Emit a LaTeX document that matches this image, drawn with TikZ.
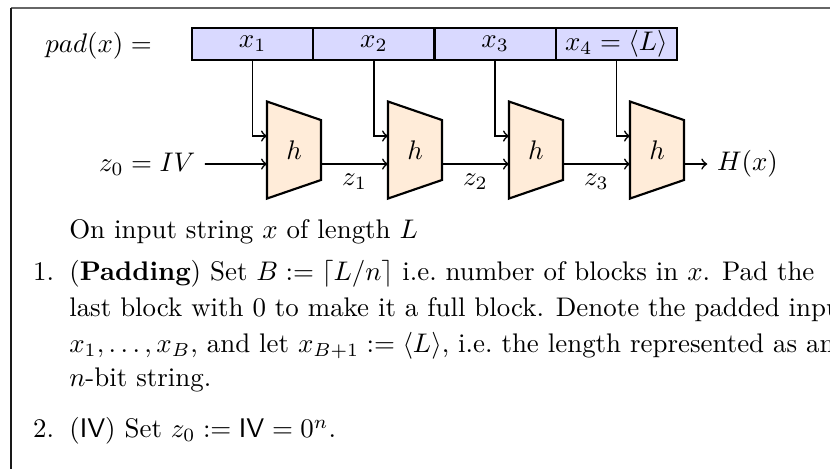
\documentclass[tikz,border=0pt]{standalone}
\usepackage{amsmath}
\usetikzlibrary{positioning, backgrounds}

\tikzset{
  blk/.style={draw, thick, fill=blue!15, minimum width=1.584cm, minimum height=0.418cm, inner sep=0pt, outer sep=0pt},
  hbox/.style={minimum width=0.705cm, minimum height=1.267cm, inner sep=0pt, outer sep=0pt},
  hshape/.style={draw, thick, fill=orange!15},
  txt/.style={anchor=base west, inner sep=0pt},
  num/.style={anchor=base east, inner sep=0pt},
}

\begin{document}
\begin{tikzpicture}[>=to, semithick]
  \useasboundingbox (0,0) rectangle (10.843,-6.114);
  \clip (0,0) rectangle (10.843,-6.114);
  % page frame
  \draw[black!60, thin] (0.144,-0.105) -- (10.9,-0.105);
  \draw[black!90, thin] (0.144,-0.105) -- (0.144,-6.2);

  % padded message blocks
  \node (pad) at (1.287,-0.6) {$pad(x) =$};
  \node[blk] (x1) at (3.300,-0.575) {$x_1$};
  \node[blk, right=0pt of x1] (x2) {$x_2$};
  \node[blk, right=0pt of x2] (x3) {$x_3$};
  \node[blk, right=0pt of x3] (x4) {$x_4 = \langle L\rangle$};

  % chain of compression functions
  \foreach \i/\x in {1/3.841, 2/5.422, 3/7.002, 4/8.583} {
    \node[hbox] (h\i) at (\x,-1.96) {$h$};
    \begin{scope}[on background layer]
      \draw[hshape] (h\i.north west) -- ([yshift=-0.242cm]h\i.north east)
        -- ([yshift=0.242cm]h\i.south east) -- (h\i.south west) -- cycle;
    \end{scope}
    \draw[->] (x\i.south) |- ([yshift=0.183cm]h\i.west);
  }
  \node[anchor=east] (z0) at (2.678,-2.143) {$z_0 = IV$};
  \draw[->] (z0.east) -- ([yshift=-0.183cm]h1.west);
  \foreach \i/\j in {1/2, 2/3, 3/4}
    \draw[->] ([yshift=-0.183cm]h\i.east) -- node[below] {$z_\i$} ([yshift=-0.183cm]h\j.west);
  \node[anchor=west] (Hx) at (9.24,-2.143) {$H(x)$};
  \draw[->] ([yshift=-0.183cm]h4.east) -- (Hx.west);

  % description
  \node[txt] (intro) at (0.895,-3.12) {On input string $x$ of length $L$};
  \node[num] (n1) at (0.718,-3.66) {1.};
  \node[txt] (l1) at (0.895,-3.66) {(\textbf{Padding}) Set $B := \lceil L/n \rceil$ i.e.\ number of blocks in $x$. Pad the};
  \node[txt] (l2) at (0.895,-4.13) {last block with 0 to make it a full block. Denote the padded input};
  \node[txt] (l3) at (0.895,-4.60) {$x_1, \ldots, x_B$, and let $x_{B+1} := \langle L \rangle$, i.e.\ the length represented as an};
  \node[txt] (l4) at (0.895,-5.05) {$n$-bit string.};
  \node[num] (n2) at (0.718,-5.72) {2.};
  \node[txt] (l5) at (0.895,-5.72) {(\textsf{IV}) Set $z_0 := \mathsf{IV} = 0^n$.};
\end{tikzpicture}
\end{document}
